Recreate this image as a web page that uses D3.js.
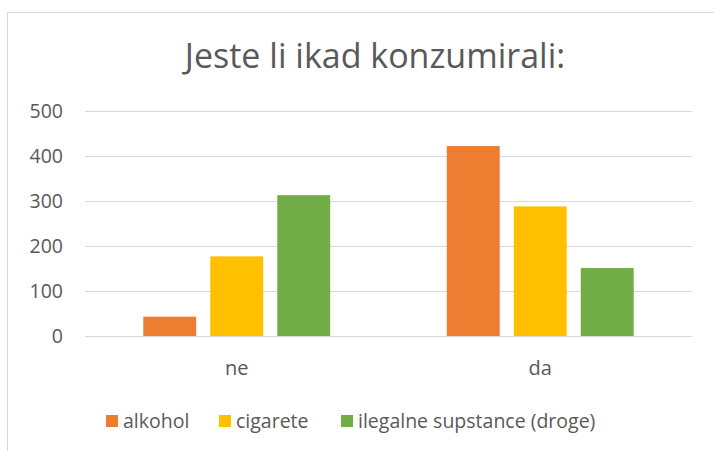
<!DOCTYPE html>
<html>
<head>
<meta charset="utf-8">
<script src="https://cdn.jsdelivr.net/npm/d3@7"></script>
<style>
  body { margin: 0; background: #fff; }
  text { font-family: "Open Sans", "Liberation Sans", sans-serif; fill: #595959; }
</style>
</head>
<body>
<div id="chart"></div>
<script>
// data
var categories = ["ne", "da"];
var series = ["alkohol", "cigarete", "ilegalne supstance (droge)"];
var colors = ["#ed7d31", "#ffc000", "#70ad47"];
var alkohol = [43, 422];
var cigarete = [177, 288];
var droge = [313, 151];
var yTicks = [0, 100, 200, 300, 400, 500];

var values = [alkohol, cigarete, droge];
var rows = categories.map(function(c, i) {
  return { cat: c, vals: series.map(function(s, j) { return { key: s, i: j, v: values[j][i] }; }) };
});

var W = 714, H = 451;
var margin = { top: 111, right: 22, bottom: 115, left: 85 };
var width = W - margin.left - margin.right,
    height = H - margin.top - margin.bottom;

var svg = d3.select("#chart").append("svg")
  .attr("width", W).attr("height", H);

// chart border
svg.append("rect")
  .attr("x", 7.5).attr("y", 12.5)
  .attr("width", 740).attr("height", 460)
  .attr("fill", "none").attr("stroke", "#d9d9d9");

svg.append("text")
  .attr("x", 375).attr("y", 68)
  .attr("text-anchor", "middle")
  .style("font-size", "34px")
  .text("Jeste li ikad konzumirali:");

var g = svg.append("g")
  .attr("transform", "translate(" + margin.left + "," + margin.top + ")");

var y = d3.scaleLinear().domain([0, 500]).range([height, 0]);
var x0 = d3.scaleBand().domain(categories).range([0, width]).padding(0);
var x1 = d3.scaleBand().domain(series).range([0, x0.bandwidth()])
  .paddingInner(0.21).paddingOuter(0.87);

// gridlines
g.selectAll(".grid").data(yTicks).enter().append("line")
  .attr("x1", 0).attr("x2", width)
  .attr("y1", function(d) { return Math.round(y(d)) + 0.5; })
  .attr("y2", function(d) { return Math.round(y(d)) + 0.5; })
  .attr("stroke", "#d9d9d9").attr("stroke-width", 1);

// y axis labels
var yAxis = g.append("g").call(d3.axisLeft(y).tickValues(yTicks).tickSize(0).tickPadding(22));
yAxis.select(".domain").remove();
yAxis.selectAll("text").style("font-size", "19.5px").attr("fill", "#595959");

// x axis labels
var xAxis = g.append("g").attr("transform", "translate(0," + height + ")")
  .call(d3.axisBottom(x0).tickSize(0).tickPadding(0));
xAxis.select(".domain").remove();
xAxis.selectAll("text").style("font-size", "20px").attr("fill", "#595959")
  .attr("dy", null).attr("y", 39);

// bars
var groups = g.selectAll(".grp").data(rows).enter().append("g")
  .attr("transform", function(d) { return "translate(" + x0(d.cat) + ",0)"; });
groups.selectAll("rect").data(function(d) { return d.vals; }).enter().append("rect")
  .attr("x", function(d) { return x1(d.key); })
  .attr("y", function(d) { return y(d.v); })
  .attr("width", x1.bandwidth())
  .attr("height", function(d) { return height - y(d.v); })
  .attr("fill", function(d) { return colors[d.i]; });

// legend
var legendX = [106, 219, 341];
var leg = svg.append("g").attr("transform", "translate(0,415)");
series.forEach(function(s, i) {
  leg.append("rect").attr("x", legendX[i]).attr("y", 0).attr("width", 12).attr("height", 12)
    .attr("fill", colors[i]);
  leg.append("text").attr("x", legendX[i] + 17).attr("y", 13)
    .style("font-size", "19.5px").text(s);
});
</script>
</body>
</html>
